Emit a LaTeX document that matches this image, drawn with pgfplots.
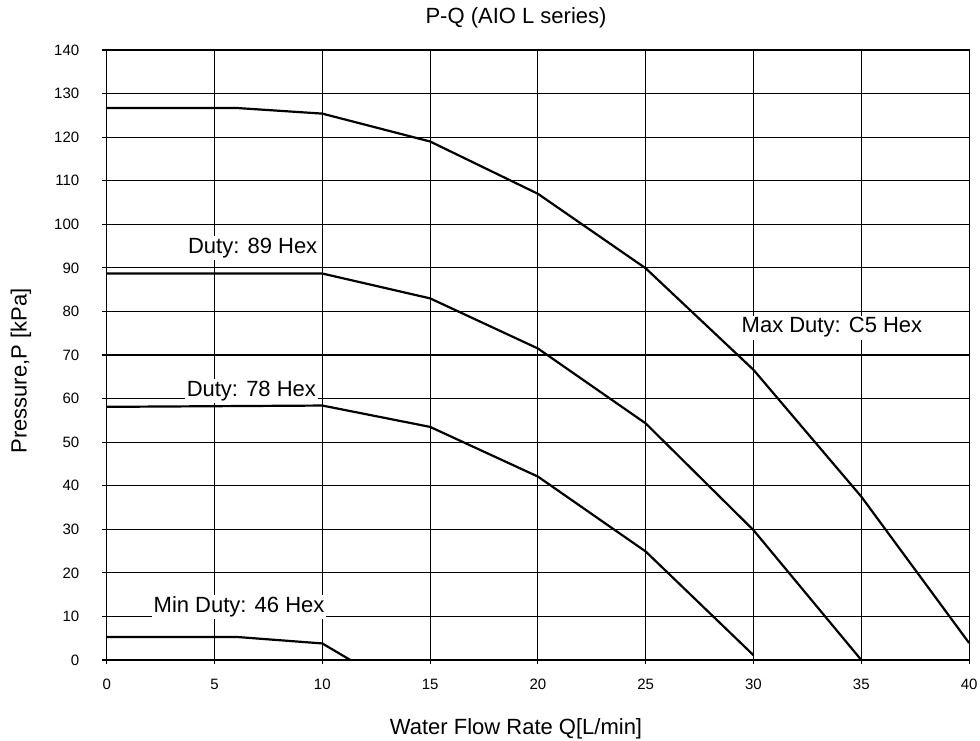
\documentclass[border=0pt]{standalone}
\usepackage{pgfplots}
\pgfplotsset{compat=1.18}
\usepackage{fontspec}
\setmainfont{Liberation Sans}
\begin{document}
\begin{tikzpicture}
\path[use as bounding box] (-53.35pt,-40pt) rectangle (436.65pt,330pt);
\begin{axis}[
  at={(0pt,0pt)}, anchor=origin,
  scale only axis, width=431.2pt, height=305pt,
  xmin=0, xmax=40, ymin=0, ymax=140,
  xtick={0,5,...,40}, ytick={0,10,...,140},
  grid=major,
  major grid style={black, line width=0.55pt},
  axis line style={black, line width=0.55pt},
  tick style={black, line width=0.55pt},
  tick align=outside, tick pos=left,
  major tick length=2.2pt,
  /pgf/number format/assume math mode=true,
  ticklabel style={font=\fontsize{7.5}{9}\selectfont},
  xticklabel style={yshift=-4pt},
  yticklabel style={xshift=-8pt},
  clip=false,
]
\addplot[black, line width=1.1pt] coordinates {(0,126.7) (6,126.7) (10,125.4) (15,119.0) (20,107.0) (25,89.9) (30,66.6) (35,37.5) (40,3.9)};
\addplot[black, line width=1.1pt] coordinates {(0,88.7) (10,88.7) (15,83.0) (20,71.5) (25,54.3) (30,29.8) (35,0)};
\addplot[black, line width=1.1pt] coordinates {(0,58.1) (10,58.4) (15,53.5) (20,42.1) (25,24.9) (30,1.1)};
\addplot[black, line width=1.1pt] coordinates {(0,5.3) (6,5.3) (10,3.8) (11.3,0)};
\begin{scope}[every node/.style={font=\fontsize{11}{13}\selectfont, fill=white, inner sep=1pt}]
\node at (axis cs:6.77,94.6) {Duty: 89 Hex};
\node at (axis cs:6.71,61.7) {Duty: 78 Hex};
\node at (axis cs:6.14,12.2) {Min Duty: 46 Hex};
\node at (axis cs:33.64,76.3) {Max Duty: C5 Hex};
\end{scope}
\end{axis}
\node[font=\fontsize{11}{13}\selectfont] at (204.65pt,321pt) {P-Q (AIO L series)};
\node[font=\fontsize{11}{13}\selectfont] at (204.65pt,-34.5pt) {Water Flow Rate Q[L/min]};
\node[font=\fontsize{11}{13}\selectfont, rotate=90] at (-42.85pt,144.5pt) {Pressure,P [kPa]};
\end{tikzpicture}
\end{document}
